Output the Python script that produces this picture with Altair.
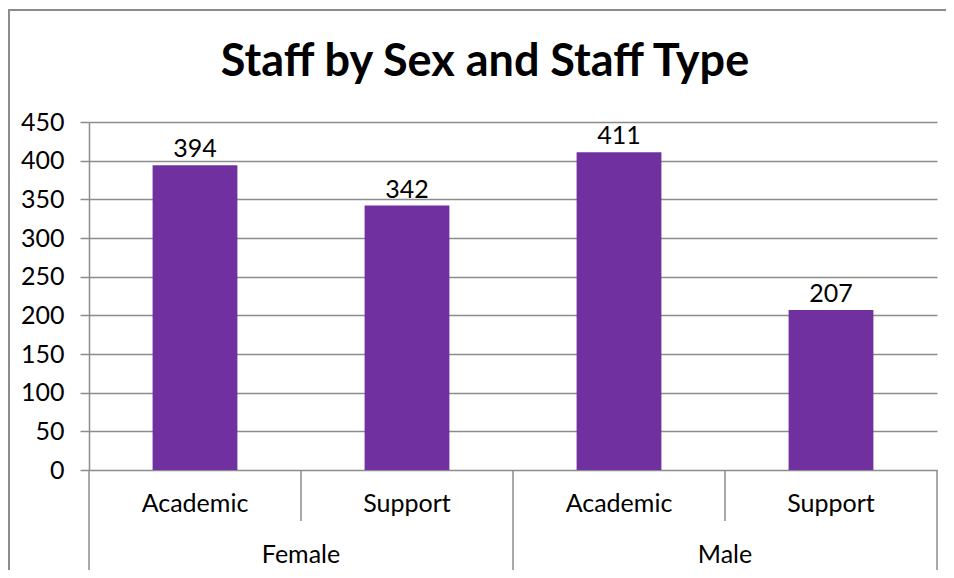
import altair as alt
import pandas as pd

sexes = ["Female", "Female", "Male", "Male"]
staff_types = ["Academic", "Support", "Academic", "Support"]
counts = [394, 342, 411, 207]
y_ticks = [0, 50, 100, 150, 200, 250, 300, 350, 400, 450]

group_labels = ["Female", "Male"]
group_centers = [1.0, 3.0]
sub_centers = [0.5, 1.5, 2.5, 3.5]
short_seps = [1, 3]
long_seps = [0, 2, 4]

W, H = 848, 348
FONT = "Lato"
GRID = "#8c8c8c"
PURPLE = "#7030A0"

keys = [f"{s} {t}" for s, t in zip(sexes, staff_types)]
df = pd.DataFrame({"key": keys, "sex": sexes, "type": staff_types, "count": counts})

xband = alt.X("key:N", sort=keys, axis=None,
              scale=alt.Scale(paddingInner=0.6, paddingOuter=0.3))
yscale = alt.Scale(domain=[0, 450], nice=False)
yaxis = alt.Axis(values=y_ticks, title=None, grid=True, labelOverlap=False,
                 gridColor=GRID, gridWidth=1.5, domainColor=GRID, domainWidth=1.5,
                 tickColor=GRID, tickWidth=1.5, tickSize=9, labelPadding=16,
                 labelFontSize=25, labelFont=FONT, labelColor="black")

bars = alt.Chart(df).mark_bar(color=PURPLE).encode(
    x=xband,
    y=alt.Y("count:Q", scale=yscale, axis=yaxis),
)
vals = alt.Chart(df).mark_text(font=FONT, fontSize=25, baseline="alphabetic", dy=-8,
                               color="black").encode(
    x=xband, y=alt.Y("count:Q", scale=yscale, axis=yaxis), text="count:Q")

xq = alt.Scale(domain=[0, 4], nice=False, zero=False)

sep_short = alt.Chart(pd.DataFrame({"p": short_seps})).mark_rule(
    color=GRID, strokeWidth=1.5).encode(
    x=alt.X("p:Q", scale=xq, axis=None), y=alt.value(H), y2=alt.value(H + 51))
sep_long = alt.Chart(pd.DataFrame({"p": long_seps})).mark_rule(
    color=GRID, strokeWidth=1.5).encode(
    x=alt.X("p:Q", scale=xq, axis=None), y=alt.value(H), y2=alt.value(H + 110))

sub_df = pd.DataFrame({"c": sub_centers, "t": staff_types})
sub_text = alt.Chart(sub_df).mark_text(font=FONT, fontSize=25, baseline="alphabetic",
                                       color="black").encode(
    x=alt.X("c:Q", scale=xq, axis=None), y=alt.value(H + 42), text="t:N")
grp_df = pd.DataFrame({"c": group_centers, "t": group_labels})
grp_text = alt.Chart(grp_df).mark_text(font=FONT, fontSize=25, baseline="alphabetic",
                                       color="black").encode(
    x=alt.X("c:Q", scale=xq, axis=None), y=alt.value(H + 93), text="t:N")

frame_v = alt.Chart(pd.DataFrame({"a": [0]})).mark_rule(color=GRID, strokeWidth=2).encode(
    x=alt.value(-80), y=alt.value(-112), y2=alt.value(H + 110))
frame_h = alt.Chart(pd.DataFrame({"a": [0]})).mark_rule(color=GRID, strokeWidth=2).encode(
    x=alt.value(-81), x2=alt.value(W + 12), y=alt.value(-112))

chart = alt.layer(
    bars, vals, sep_short, sep_long, sub_text, grp_text, frame_v, frame_h
).resolve_scale(x="independent").properties(
    width=W, height=H,
    title=alt.TitleParams("Staff by Sex and Staff Type", font=FONT, fontSize=45,
                          fontWeight="bold", color="black", anchor="middle", dx=-28,
                          offset=-76),
    autosize=alt.AutoSizeParams(type="none"),
    padding={"left": 81, "top": 114, "right": 9, "bottom": 100},
).configure_view(stroke=None)

chart.save("out.html", embed_options={"renderer": "svg", "actions": False})
